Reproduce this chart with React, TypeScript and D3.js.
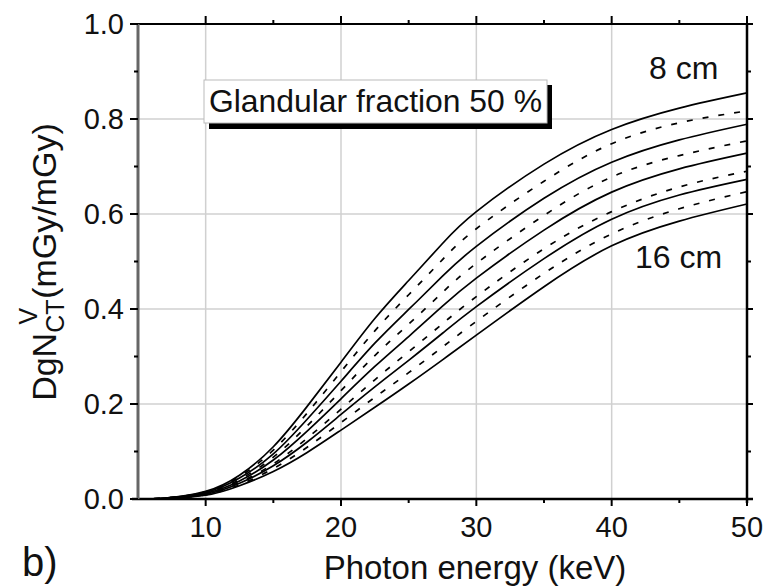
import React from "react";
import * as d3 from "d3";

const energy = [5, 7, 10, 12.5, 15, 17.5, 20, 22.5, 25, 27.5, 30, 35, 40, 45, 50];
const d8 = [0, 0.002, 0.016, 0.05, 0.11, 0.195, 0.288, 0.38, 0.46, 0.538, 0.605, 0.705, 0.778, 0.823, 0.855];
const d9 = [0, 0.002, 0.015, 0.047, 0.103, 0.181, 0.268, 0.354, 0.43, 0.504, 0.569, 0.669, 0.748, 0.792, 0.817];
const d10 = [0, 0.002, 0.014, 0.044, 0.095, 0.168, 0.248, 0.328, 0.399, 0.469, 0.532, 0.633, 0.709, 0.756, 0.789];
const d11 = [0, 0.002, 0.013, 0.041, 0.088, 0.154, 0.228, 0.302, 0.368, 0.435, 0.496, 0.597, 0.678, 0.723, 0.754];
const d12 = [0, 0.001, 0.012, 0.038, 0.082, 0.143, 0.211, 0.279, 0.342, 0.406, 0.465, 0.566, 0.646, 0.695, 0.728];
const d13 = [0, 0.001, 0.0105, 0.035, 0.074, 0.128, 0.189, 0.251, 0.31, 0.369, 0.426, 0.527, 0.605, 0.657, 0.69];
const d14 = [0, 0.001, 0.0098, 0.033, 0.07, 0.12, 0.178, 0.236, 0.292, 0.349, 0.405, 0.506, 0.589, 0.64, 0.673];
const d15 = [0, 0.001, 0.009, 0.03, 0.064, 0.109, 0.161, 0.214, 0.266, 0.32, 0.374, 0.475, 0.558, 0.611, 0.647];
const d16 = [0, 0.001, 0.008, 0.028, 0.058, 0.098, 0.145, 0.193, 0.242, 0.293, 0.345, 0.447, 0.533, 0.585, 0.621];

const seriesList = [d8, d9, d10, d11, d12, d13, d14, d15, d16];
const dashedFlags = [false, true, false, true, false, true, false, true, false];

const xMajor = [10, 20, 30, 40, 50];
const xMinor = [15, 25, 35, 45];
const yMajor = [0, 0.2, 0.4, 0.6, 0.8, 1.0];
const yMinor = [0.1, 0.3, 0.5, 0.7, 0.9];
const yTickLabels = ["0.0", "0.2", "0.4", "0.6", "0.8", "1.0"];

const legendText = "Glandular fraction 50 %";
const topLabel = "8 cm";
const bottomLabel = "16 cm";
const xTitle = "Photon energy (keV)";
const panelLabel = "b)";

const FONT = "'Liberation Sans', Arial, Helvetica, sans-serif";

export default function App() {
  const W = 769, H = 587;
  const left = 138, right = 747, top = 24, bottom = 499;
  const x = d3.scaleLinear().domain([5, 50]).range([left, right]);
  const y = d3.scaleLinear().domain([0, 1]).range([bottom, top]);
  const line = d3
    .line<number>()
    .x((_, i) => x(energy[i]))
    .y((d) => y(d))
    .curve(d3.curveNatural);

  const txt = "#111";
  return (
    <svg width={W} height={H} style={{ position: "absolute", left: 0, top: 0, background: "#fff" }} fontFamily={FONT}>
      <rect x={0} y={0} width={W} height={H} fill="#fff" />
      {/* grid */}
      {xMajor.filter((v) => v < 50).map((v) => (
        <line key={"gx" + v} x1={x(v)} x2={x(v)} y1={top} y2={bottom} stroke="#d0d0d0" strokeWidth={1.5} />
      ))}
      {yMajor.filter((v) => v > 0 && v < 1).map((v) => (
        <line key={"gy" + v} x1={left} x2={right} y1={y(v)} y2={y(v)} stroke="#d0d0d0" strokeWidth={1.5} />
      ))}
      {/* legend box */}
      <rect x={209} y={85} width={343} height={44} fill="#000" />
      <rect x={204} y={80} width={343} height={43} fill="#fff" stroke="#bbb" strokeWidth={1} />
      <text x={209} y={112} fontSize={31.5} fill={txt} textLength={333} lengthAdjust="spacingAndGlyphs">{legendText}</text>
      {/* curves */}
      {seriesList.map((s, i) => (
        <path
          key={"s" + i}
          d={line(s) || ""}
          fill="none"
          stroke="#000"
          strokeWidth={1.7}
          strokeDasharray={dashedFlags[i] ? "6 10" : undefined}
        />
      ))}
      {/* axes */}
      <line x1={132} x2={753} y1={bottom} y2={bottom} stroke="#000" strokeWidth={2.5} />
      <line x1={132} x2={753} y1={top} y2={top} stroke="#000" strokeWidth={2} />
      <line x1={left} x2={left} y1={top} y2={bottom} stroke="#666" strokeWidth={3} />
      <line x1={right} x2={right} y1={top} y2={bottom + 4} stroke="#000" strokeWidth={2.5} />
      {xMajor.map((v) => (
        <g key={"xt" + v}>
          <line x1={x(v)} x2={x(v)} y1={bottom} y2={bottom + 7} stroke="#000" strokeWidth={2} />
          <line x1={x(v)} x2={x(v)} y1={top} y2={top - 8} stroke="#000" strokeWidth={2} />
          <text x={x(v)} y={537} fontSize={29} textAnchor="middle" fill={txt}>{v}</text>
        </g>
      ))}
      {xMinor.map((v) => (
        <g key={"xm" + v}>
          <line x1={x(v)} x2={x(v)} y1={bottom} y2={bottom + 4} stroke="#000" strokeWidth={2} />
          <line x1={x(v)} x2={x(v)} y1={top} y2={top - 4} stroke="#000" strokeWidth={2} />
        </g>
      ))}
      {yMajor.map((v, i) => (
        <g key={"yt" + v}>
          <line x1={left} x2={left - 8} y1={y(v)} y2={y(v)} stroke="#000" strokeWidth={2} />
          <line x1={right} x2={right + 6} y1={y(v)} y2={y(v)} stroke="#000" strokeWidth={2} />
          <text x={124} y={y(v)} dy="0.36em" fontSize={29} textAnchor="end" fill={txt}>{yTickLabels[i]}</text>
        </g>
      ))}
      {yMinor.map((v) => (
        <g key={"ym" + v}>
          <line x1={left} x2={left - 4} y1={y(v)} y2={y(v)} stroke="#000" strokeWidth={2} />
          <line x1={right} x2={right + 4} y1={y(v)} y2={y(v)} stroke="#000" strokeWidth={2} />
        </g>
      ))}
      {/* annotations */}
      <text x={649} y={79} fontSize={32} fill={txt}>{topLabel}</text>
      <text x={635} y={268} fontSize={32} fill={txt}>{bottomLabel}</text>
      <text x={475} y={579} fontSize={33} textAnchor="middle" fill={txt}>{xTitle}</text>
      <text x={22} y={576} fontSize={40} fill={txt}>{panelLabel}</text>
      <g transform="translate(56,262) rotate(-90)">
        <text textAnchor="middle" fontSize={34} fill={txt}>
          DgN
          <tspan fontSize={25} dy={8}>CT</tspan>
          <tspan fontSize={25} dx={-25} dy={-27}>V</tspan>
          <tspan dx={9} dy={19}>(mGy/mGy)</tspan>
        </text>
      </g>
    </svg>
  );
}
